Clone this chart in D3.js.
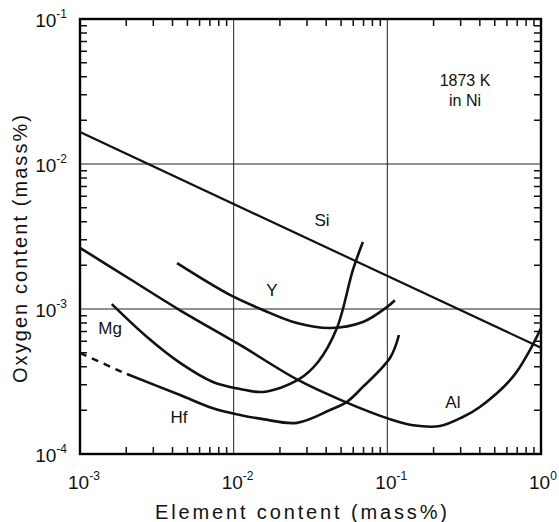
<!doctype html>
<html>
<head>
    <title>Oxygen content vs element content</title>
    <script src='https://d3js.org/d3.v7.min.js'></script>
    <style>
        body { margin: 0; background: #fff; }
        text { font-family: 'Liberation Sans', 'DejaVu Sans', sans-serif; fill: #111; }
    </style>
</head>
<body>
<svg></svg>
</body>
<script>

    // curves (element content in mass%, oxygen content in mass%)
    var siX = [0.001, 1];
    var siY = [0.0166, 0.00054];

    var alX = [0.001, 0.00211, 0.00448, 0.011, 0.0262, 0.053, 0.104, 0.147, 0.22, 0.31, 0.40, 0.656, 0.847, 1.0];
    var alY = [0.00264, 0.00161, 0.00098, 0.000565, 0.000324, 0.000229, 0.000174, 0.000158, 0.000156, 0.00018, 0.000211, 0.00034, 0.000521, 0.00074];

    var mgX = [0.00161, 0.00273, 0.00448, 0.00733, 0.011, 0.0155, 0.0262, 0.0354, 0.047, 0.0597, 0.0693];
    var mgY = [0.00108, 0.000641, 0.000425, 0.000314, 0.000281, 0.000268, 0.000324, 0.000431, 0.000739, 0.00186, 0.0029];

    var yX = [0.00428, 0.00946, 0.0155, 0.0258, 0.0424, 0.0693, 0.0993, 0.112];
    var yY = [0.00207, 0.00125, 0.000985, 0.0008, 0.000739, 0.000813, 0.00103, 0.00115];

    var hfDashX = [0.001, 0.00187];
    var hfDashY = [0.000498, 0.000368];
    var hfX = [0.00202, 0.00448, 0.00733, 0.011, 0.0155, 0.0258, 0.0424, 0.0546, 0.0693, 0.104, 0.119];
    var hfY = [0.000356, 0.000255, 0.000207, 0.000186, 0.000174, 0.000164, 0.000201, 0.000229, 0.00029, 0.000459, 0.000662];

    var decadesX = [-3, -2, -1, 0];
    var decadesY = [-4, -3, -2, -1];
    var minorMult = [2, 3, 4, 5, 6, 7, 8, 9];

    var curveLabels = [
        {name: 'Si', x: 0.0376, y: 0.00411},
        {name: 'Y', x: 0.01775, y: 0.00135},
        {name: 'Mg', x: 0.00157, y: 0.000739},
        {name: 'Hf', x: 0.00441, y: 0.00018},
        {name: 'Al', x: 0.267, y: 0.000229}
    ];

    var svgWidth = 559, svgHeight = 522;
    var plotL = 80, plotR = 541, plotT = 19, plotB = 454;

    var svg = d3.select('svg')
        .attr('width', svgWidth)
        .attr('height', svgHeight);

    var xScale = d3.scaleLog().domain([1e-3, 1]).range([plotL, plotR]);
    var yScale = d3.scaleLog().domain([1e-4, 1e-1]).range([plotB, plotT]);

    // minor ticks 2..9 in every decade
    var xTicks = [], yTicks = [];
    decadesX.slice(0, 3).forEach(function (e) {
        minorMult.forEach(function (m) { xTicks.push(m * Math.pow(10, e)); });
    });
    decadesY.slice(0, 3).forEach(function (e) {
        minorMult.forEach(function (m) { yTicks.push(m * Math.pow(10, e)); });
    });

    // grid lines at inner decades
    svg.selectAll('.gx').data([1e-2, 1e-1]).enter().append('line')
        .attr('x1', function (d) { return xScale(d); })
        .attr('x2', function (d) { return xScale(d); })
        .attr('y1', plotT).attr('y2', plotB)
        .attr('stroke', '#222').attr('stroke-width', 1);
    svg.selectAll('.gy').data([1e-3, 1e-2]).enter().append('line')
        .attr('y1', function (d) { return yScale(d); })
        .attr('y2', function (d) { return yScale(d); })
        .attr('x1', plotL).attr('x2', plotR)
        .attr('stroke', '#222').attr('stroke-width', 1);

    // frame
    svg.append('rect')
        .attr('x', plotL).attr('y', plotT)
        .attr('width', plotR - plotL).attr('height', plotB - plotT)
        .attr('fill', 'none').attr('stroke', '#000').attr('stroke-width', 2.4);

    // inward ticks on all four sides, as one path
    var tl = 7;
    var tickPath = '';
    xTicks.forEach(function (d) {
        var x = xScale(d);
        tickPath += 'M' + x + ',' + plotB + 'V' + (plotB - tl);
        tickPath += 'M' + x + ',' + plotT + 'V' + (plotT + tl);
    });
    yTicks.forEach(function (d) {
        var y = yScale(d);
        tickPath += 'M' + plotL + ',' + y + 'H' + (plotL + tl);
        tickPath += 'M' + plotR + ',' + y + 'H' + (plotR - tl);
    });
    svg.append('path')
        .attr('d', tickPath)
        .attr('fill', 'none')
        .attr('stroke', '#111')
        .attr('stroke-width', 1.5);

    // tick labels  10^n
    var xl = svg.selectAll('.xl').data(decadesX).enter().append('text')
        .attr('x', function (d) { return xScale(Math.pow(10, d)) - 12; })
        .attr('y', 489)
        .style('font-size', '19px');
    xl.append('tspan').text('10');
    xl.append('tspan').attr('dy', -9).style('font-size', '12px').text(function (d) { return d === 0 ? '0' : '-' + (-d); });

    var yl = svg.selectAll('.yl').data(decadesY).enter().append('text')
        .attr('x', 67)
        .attr('y', function (d) { return yScale(Math.pow(10, d)) + 8; })
        .attr('text-anchor', 'end')
        .style('font-size', '19px');
    yl.append('tspan').text('10');
    yl.append('tspan').attr('dy', -9).style('font-size', '12px').text(function (d) { return '-' + (-d); });

    // curves
    svg.append('clipPath').attr('id', 'plot').append('rect')
        .attr('x', plotL).attr('y', plotT).attr('width', plotR - plotL).attr('height', plotB - plotT);

    var line = d3.line()
        .x(function (d) { return xScale(d[0]); })
        .y(function (d) { return yScale(d[1]); })
        .curve(d3.curveCatmullRom.alpha(0.5));

    var series = [
        {x: siX, y: siY, w: 2.2},
        {x: alX, y: alY, w: 2.6},
        {x: mgX, y: mgY, w: 2.6},
        {x: yX, y: yY, w: 2.6},
        {x: hfX, y: hfY, w: 2.6},
        {x: hfDashX, y: hfDashY, w: 2.4, dash: '7,6'}
    ];

    svg.append('g').attr('clip-path', 'url(#plot)')
        .selectAll('path').data(series).enter().append('path')
        .attr('d', function (s) { return line(d3.zip(s.x, s.y)); })
        .attr('fill', 'none')
        .attr('stroke', '#111')
        .attr('stroke-width', function (s) { return s.w; })
        .attr('stroke-dasharray', function (s) { return s.dash || null; });

    svg.selectAll('.cl').data(curveLabels).enter().append('text')
        .attr('x', function (d) { return xScale(d.x); })
        .attr('y', function (d) { return yScale(d.y) + 6; })
        .attr('text-anchor', 'middle')
        .style('font-size', '17px')
        .text(function (d) { return d.name; });

    svg.append('text').attr('x', 465).attr('y', 86).attr('text-anchor', 'middle')
        .style('font-size', '16px').text('1873 K');
    svg.append('text').attr('x', 465).attr('y', 106).attr('text-anchor', 'middle')
        .style('font-size', '16px').text('in Ni');

    // axis titles
    svg.append('text')
        .attr('x', 155).attr('y', 519)
        .attr('textLength', 292)
        .style('font-size', '20px')
        .text('Element content (mass%)');

    svg.append('text')
        .attr('transform', 'translate(27,383) rotate(-90)')
        .attr('textLength', 268)
        .style('font-size', '20px')
        .text('Oxygen content (mass%)');

</script>
</html>
